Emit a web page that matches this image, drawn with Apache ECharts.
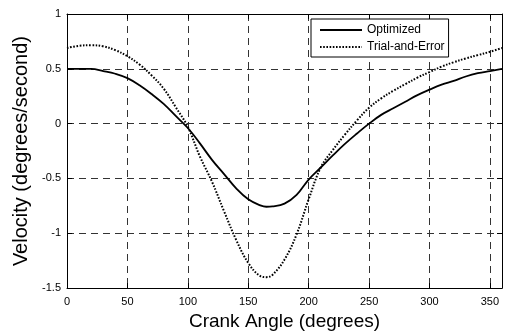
<!DOCTYPE html>
<html>
<head>
<meta charset="utf-8">
<script src="https://cdn.jsdelivr.net/npm/echarts@6/dist/echarts.min.js"></script>
<style>
  html, body { margin: 0; padding: 0; background: #fff; }
  #chart { width: 507px; height: 336px; }
</style>
</head>
<body>
<div id="chart"></div>
<script>
// crank angle samples (degrees)
const angles = [0, 10, 20, 30, 40, 50, 60, 70, 80, 90, 100, 110, 120, 130, 140, 150, 160, 165, 170, 180,
	190, 200, 210, 220, 230, 240, 250, 260, 270, 280, 290, 300, 310, 320, 330, 340, 350, 360];

// velocity
const optimized = [0.50, 0.50, 0.50, 0.48, 0.455, 0.415, 0.35, 0.27, 0.18, 0.07, -0.04, -0.18, -0.33, -0.46,
	-0.59, -0.69, -0.745, -0.758, -0.755, -0.73, -0.65, -0.51, -0.40, -0.29, -0.185, -0.09, 0.0, 0.08, 0.14,
	0.20, 0.26, 0.31, 0.355, 0.39, 0.43, 0.46, 0.48, 0.50];
const trialAndError = [0.69, 0.71, 0.715, 0.705, 0.67, 0.615, 0.54, 0.44, 0.32, 0.15, -0.03, -0.30, -0.53,
	-0.80, -1.06, -1.27, -1.39, -1.40, -1.38, -1.24, -1.01, -0.69, -0.40, -0.24, -0.10, 0.03, 0.145, 0.23,
	0.30, 0.36, 0.42, 0.47, 0.52, 0.56, 0.595, 0.625, 0.655, 0.69];

const xTicks = [0, 50, 100, 150, 200, 250, 300, 350];
const seriesNames = ['Optimized', 'Trial-and-Error'];

const pairs = (ys) => angles.map((a, i) => [a, ys[i]]);

const font = '"Liberation Sans", Arial, sans-serif';
const gridLine = { show: true, lineStyle: { color: '#333', width: 1, type: [7, 5] } };
const tick = { show: true, inside: true, length: 5, lineStyle: { color: '#000' } };
const axisLine = { show: true, onZero: false, lineStyle: { color: '#000', width: 1 } };

const chart = echarts.init(document.getElementById('chart'), null, { renderer: 'canvas' });

chart.setOption({
	animation: false,
	backgroundColor: '#fff',
	grid: { left: 67, right: 5, top: 14, bottom: 46, containLabel: false },
	legend: {
		data: seriesNames,
		orient: 'vertical',
		left: 311,
		top: 19,
		padding: [5, 4, 4, 8],
		itemWidth: 42,
		itemHeight: 14,
		itemGap: 5,
		backgroundColor: '#fff',
		borderColor: '#000',
		borderWidth: 1,
		borderRadius: 0,
		itemStyle: { opacity: 0 },
		textStyle: { color: '#000', fontFamily: font, fontSize: 12 },
	},
	xAxis: [
		{
			type: 'value',
			min: 0,
			max: 360,
			interval: 50,
			name: 'Crank Angle (degrees)',
			nameLocation: 'middle',
			nameGap: 23,
			nameTextStyle: { color: '#000', fontFamily: font, fontSize: 19 },
			axisLine,
			axisTick: tick,
			splitLine: gridLine,
			axisLabel: {
				color: '#000',
				fontFamily: font,
				fontSize: 11,
				margin: 8,
				formatter: (v) => (xTicks.includes(v) ? String(v) : ''),
			},
		},
		{
			type: 'value',
			position: 'top',
			min: 0,
			max: 360,
			interval: 50,
			axisLine,
			axisTick: tick,
			axisLabel: { show: false },
			splitLine: { show: false },
		},
	],
	yAxis: [
		{
			type: 'value',
			min: -1.5,
			max: 1,
			interval: 0.5,
			name: 'Velocity (degrees/second)',
			nameLocation: 'middle',
			nameGap: 31,
			nameTextStyle: { color: '#000', fontFamily: font, fontSize: 20 },
			axisLine,
			axisTick: tick,
			splitLine: gridLine,
			axisLabel: { color: '#000', fontFamily: font, fontSize: 11, margin: 6 },
		},
		{
			type: 'value',
			position: 'right',
			min: -1.5,
			max: 1,
			interval: 0.5,
			axisLine,
			axisTick: tick,
			axisLabel: { show: false },
			splitLine: { show: false },
		},
	],
	series: [
		{
			name: seriesNames[0],
			type: 'line',
			data: pairs(optimized),
			smooth: 0.4,
			symbol: 'none',
			lineStyle: { color: '#000', width: 1.8, type: 'solid' },
			itemStyle: { color: '#000' },
		},
		{
			name: seriesNames[1],
			type: 'line',
			data: pairs(trialAndError),
			smooth: 0.4,
			symbol: 'none',
			lineStyle: { color: '#000', width: 2, type: [1.6, 1.6] },
			itemStyle: { color: '#000' },
		},
	],
});
</script>
</body>
</html>
